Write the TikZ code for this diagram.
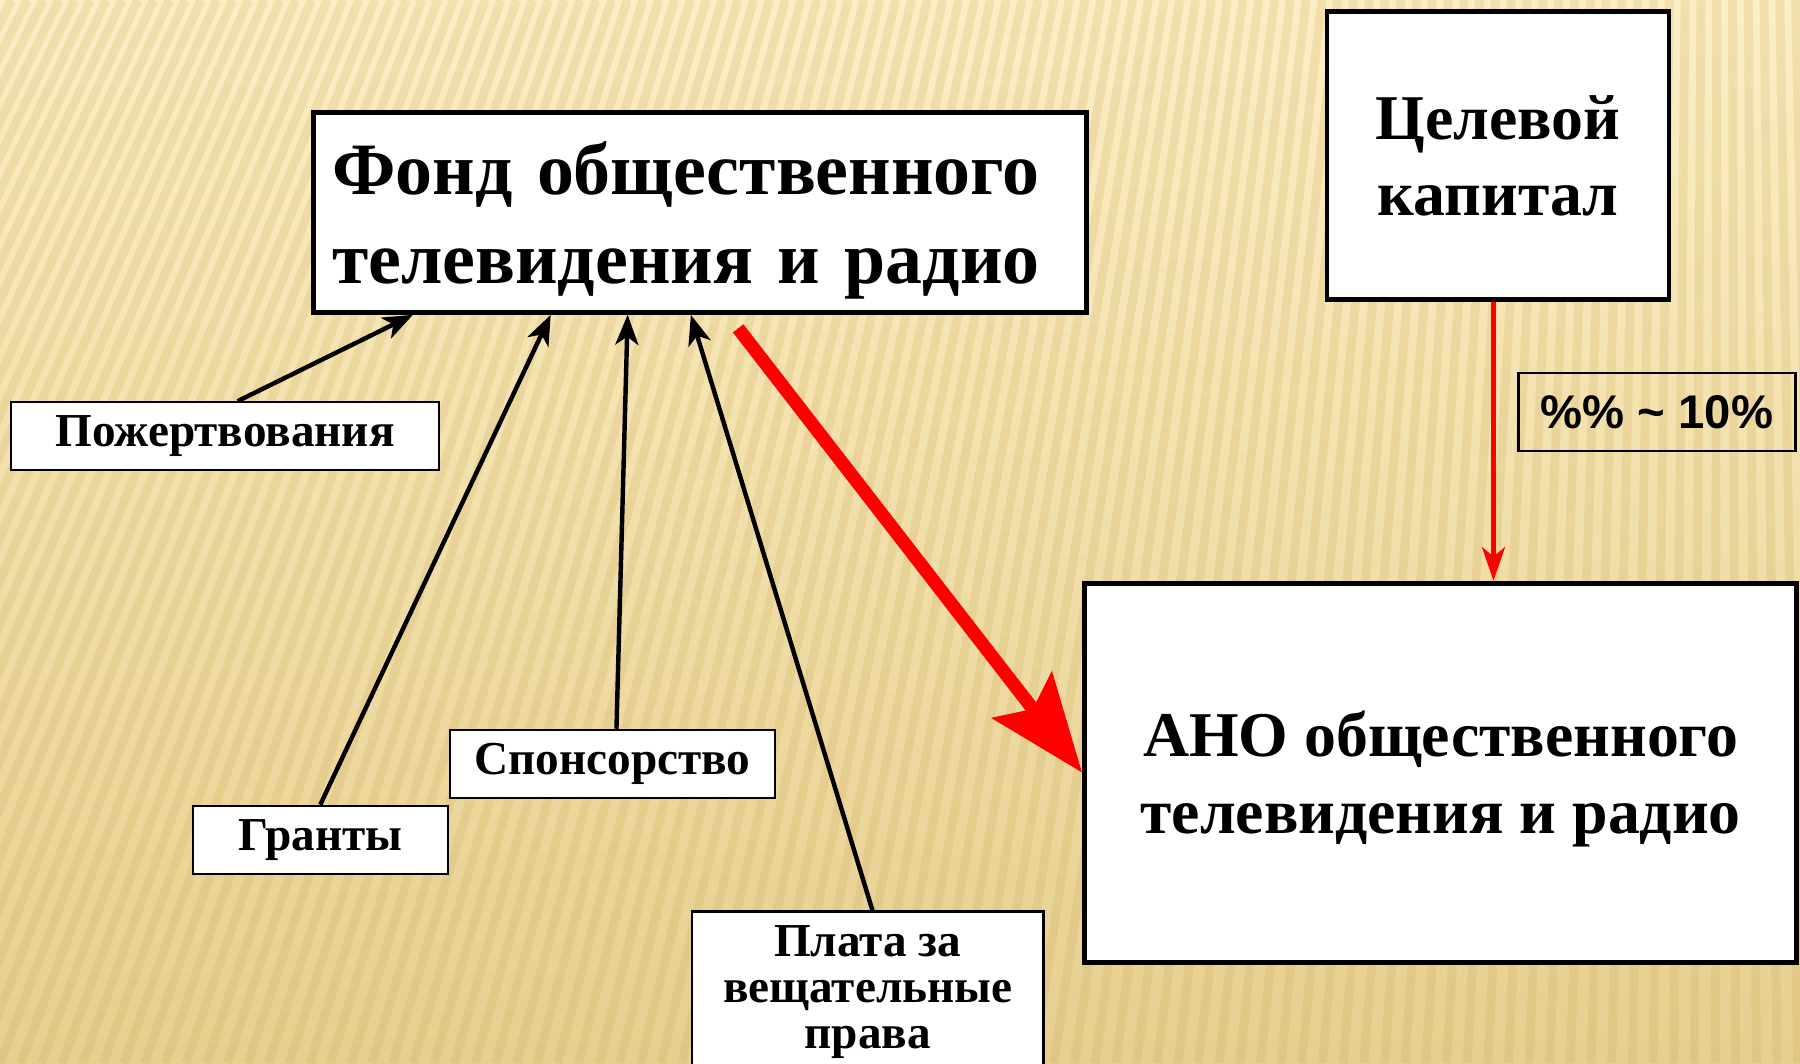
\documentclass[tikz,border=0pt]{standalone}
\usepackage{fontspec}
\setmainfont{Liberation Serif}
\newfontfamily\arialfont{Liberation Sans}
\usetikzlibrary{arrows.meta}
\definecolor{bgtop}{RGB}{252,238,196}
\definecolor{bgbot}{RGB}{230,207,143}
\definecolor{stripe}{RGB}{205,170,90}
\definecolor{pptred}{RGB}{255,0,0}

\begin{document}
\begin{tikzpicture}[x=0.01cm, y=-0.01cm,
	>={Stealth[length=2.6mm,width=2mm,inset=0.7mm]},
	bigbox/.style={draw, line width=1.25pt, fill=white, align=center, text depth=0pt},
	smallbox/.style={draw, line width=0.55pt, fill=white, align=center, font=\fontsize{11.7}{11.4}\selectfont\bfseries},
	feed/.style={->, line width=1.1pt}]

\useasboundingbox (0,0) rectangle (1568,926);

\begin{scope}
\clip (0,0) rectangle (1568,926);
\shade[top color=bgtop, bottom color=bgbot] (0,0) rectangle (1568,926);
\foreach \s in {-26,...,88}
{
	\draw[stripe, line width=2.2pt, opacity=0.22] ({\s*18},926) -- ({\s*18+0.2359*(1500-\s*18)},0);
}
\end{scope}

\node[bigbox, minimum width=6.73cm, minimum height=1.74cm, text width=6.4cm, align=left, text depth=0.77cm, font=\fontsize{18.3}{21.9}\selectfont\bfseries] (fond) at (609.5,185) {Фонд общественного\\телевидения и радио};
\node[bigbox, line width=1.1pt, minimum width=2.98cm, minimum height=2.51cm, font=\fontsize{15.8}{18.8}\selectfont\bfseries] (celevoy) at (1305,135.5) {Целевой\\капитал};
\node[draw, line width=0.6pt, minimum width=2.41cm, minimum height=0.68cm, font=\arialfont\fontsize{11.7}{14}\selectfont\bfseries] (pct) at (1443.5,359) {\%\% \char`~{} 10\%};
\node[bigbox, minimum width=6.2cm, minimum height=3.3cm, font=\fontsize{15.8}{19.1}\selectfont\bfseries] (ano) at (1255,673) {АНО общественного\\телевидения и радио};

\node[smallbox, minimum width=3.72cm, minimum height=0.56cm] (pozh) at (196,380) {Пожертвования};
\node[smallbox, minimum width=2.22cm, minimum height=0.57cm] (granty) at (279,731.5) {Гранты};
\node[smallbox, minimum width=2.83cm, minimum height=0.57cm] (sponsor) at (533.5,665.5) {Спонсорство};
\node[smallbox, minimum width=3.06cm, anchor=north, inner ysep=0.12cm] (plata) at (756,793) {Плата за\\вещательные\\права};

\draw[feed] ([xshift=0.11cm]pozh.north) -- ([xshift=0.89cm]fond.south west);
\draw[feed] (granty.north) -- ([xshift=2.09cm]fond.south west);
\draw[feed] ([xshift=0.035cm]sponsor.north) -- ([xshift=2.76cm]fond.south west);
\draw[feed] ([xshift=0.04cm]plata.north) -- ([xshift=3.31cm]fond.south west);

\draw[pptred, line width=1.1pt, -{Stealth[length=2.9mm,width=2mm,inset=0.8mm]}] ([xshift=-0.04cm]celevoy.south) -- ([xshift=-0.04cm]celevoy.south |- ano.north);

\coordinate (redtail) at (643,286);
\draw[pptred, line width=3.3pt, -{Stealth[length=8.5mm,width=6.5mm,inset=1.5mm]}] (redtail) -- (ano.west);

\end{tikzpicture}
\end{document}
